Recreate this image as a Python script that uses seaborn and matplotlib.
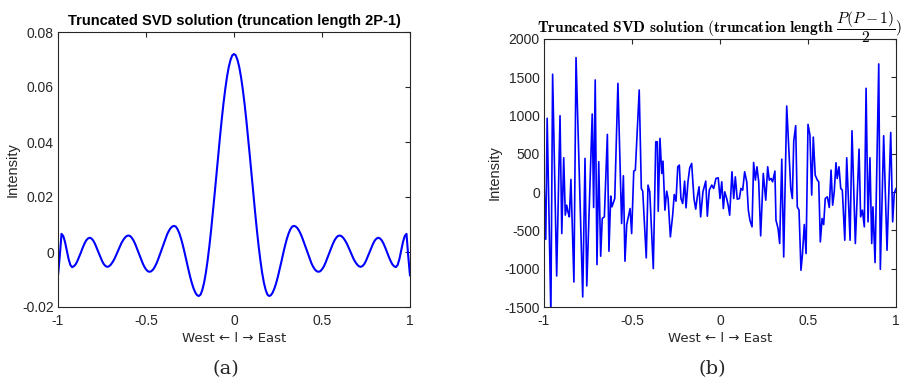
import numpy as np
import seaborn as sns
import matplotlib.pyplot as plt

# ---- data ----
# (a) profile on 0..1 in steps of 0.01 (the curve is symmetric about l = 0)
tsvd_half = [0.0720, 0.0715, 0.0698, 0.0672, 0.0636, 0.0591, 0.0539, 0.0480, 0.0416, 0.0349,
             0.0280, 0.0211, 0.0144, 0.0080, 0.0021, -0.0031, -0.0076, -0.0112, -0.0138, -0.0155,
             -0.0160, -0.0157, -0.0147, -0.0132, -0.0112, -0.0088, -0.0061, -0.0033, -0.0004, 0.0023,
             0.0047, 0.0067, 0.0082, 0.0092, 0.0095, 0.0093, 0.0087, 0.0077, 0.0064, 0.0048,
             0.0030, 0.0012, -0.0007, -0.0025, -0.0041, -0.0054, -0.0064, -0.0070, -0.0072, -0.0070,
             -0.0063, -0.0053, -0.0039, -0.0023, -0.0006, 0.0011, 0.0027, 0.0041, 0.0051, 0.0058,
             0.0060, 0.0058, 0.0052, 0.0043, 0.0032, 0.0018, 0.0003, -0.0012, -0.0026, -0.0037,
             -0.0046, -0.0052, -0.0054, -0.0051, -0.0044, -0.0032, -0.0017, -0.0001, 0.0015, 0.0030,
             0.0042, 0.0049, 0.0052, 0.0049, 0.0042, 0.0030, 0.0015, -0.0002, -0.0018, -0.0033,
             -0.0045, -0.0052, -0.0055, -0.0047, -0.0025, 0.0006, 0.0036, 0.0058, 0.0066, -0.0015,
             -0.0086]

# (b) noisy solution, vertices of the polyline
noisy_l = [-1.000, -0.990, -0.982, -0.961, -0.951, -0.928, -0.909, -0.899, -0.888, -0.879,
           -0.871, -0.864, -0.856, -0.847, -0.830, -0.818, -0.780, -0.767, -0.757, -0.726,
           -0.718, -0.709, -0.699, -0.689, -0.678, -0.669, -0.657, -0.640, -0.631, -0.621,
           -0.614, -0.598, -0.580, -0.559, -0.549, -0.540, -0.530, -0.511, -0.502, -0.490,
           -0.481, -0.459, -0.447, -0.439, -0.419, -0.409, -0.399, -0.379, -0.365, -0.356,
           -0.351, -0.341, -0.331, -0.324, -0.313, -0.303, -0.295, -0.282, -0.269, -0.260,
           -0.250, -0.240, -0.231, -0.222, -0.212, -0.201, -0.193, -0.182, -0.172, -0.161,
           -0.148, -0.138, -0.129, -0.119, -0.110, -0.097, -0.081, -0.072, -0.061, -0.047,
           -0.036, -0.023, -0.010, 0.000, 0.010, 0.019, 0.027, 0.038, 0.047, 0.055,
           0.068, 0.078, 0.087, 0.098, 0.110, 0.119, 0.129, 0.140, 0.152, 0.161,
           0.170, 0.182, 0.191, 0.201, 0.210, 0.220, 0.231, 0.246, 0.260, 0.271,
           0.280, 0.290, 0.299, 0.312, 0.318, 0.330, 0.339, 0.351, 0.362, 0.379,
           0.402, 0.411, 0.419, 0.430, 0.439, 0.449, 0.460, 0.468, 0.479, 0.489,
           0.500, 0.511, 0.521, 0.530, 0.541, 0.553, 0.561, 0.570, 0.580, 0.589,
           0.598, 0.610, 0.621, 0.631, 0.640, 0.649, 0.659, 0.666, 0.676, 0.686,
           0.695, 0.709, 0.720, 0.739, 0.750, 0.769, 0.790, 0.799, 0.809, 0.820,
           0.830, 0.841, 0.852, 0.862, 0.869, 0.881, 0.902, 0.911, 0.930, 0.949,
           0.970, 0.981, 0.990, 1.000]
noisy_intensity = [135, -615, 964, -1600, 1539, -1094, 998, -540, 449, -300,
                   -170, -257, -323, 166, -1173, 1757, -1369, 440, -1225, 1020,
                   -200, 1465, -946, 397, -837, -344, -323, 754, -772, -52,
                   -192, -83, 1421, -410, 214, -902, -423, -214, -541, 275,
                   288, 1334, 48, 13, -859, 92, 4, -998, 658, 658,
                   -249, 702, 244, 405, -235, 13, -83, -584, -301, -31,
                   -118, 331, 353, -83, -148, 144, -205, 135, 318, 375,
                   -83, -222, -61, 70, -323, 4, 144, -314, 26, 92,
                   48, 179, 187, -83, 135, -214, 4, -83, -179, -301,
                   266, -83, 200, -92, -83, 48, 26, 266, 135, -235,
                   -366, -453, 388, 157, 331, 135, -571, 244, -105, 331,
                   157, 179, 135, 275, -366, -475, -671, 431, -846, 1125,
                   48, -83, 667, 868, -192, -235, -1020, -824, -423, -802,
                   885, 746, -39, 719, 222, 157, 135, -650, -344, -423,
                   -83, -61, -200, 288, -170, 4, 384, 179, 331, 48,
                   26, -628, 449, -628, 802, -671, 562, -323, -235, -453,
                   1356, -388, 449, -671, -192, -920, 1674, -1007, 737, -759,
                   780, -388, -17, 48]

left_yticks = [-0.02, 0, 0.02, 0.04, 0.06, 0.08]
left_yticklabels = ["-0.02", "0", "0.02", "0.04", "0.06", "0.08"]
right_yticks = [-1500, -1000, -500, 0, 500, 1000, 1500, 2000]
xticks = [-1, -0.5, 0, 0.5, 1]
xticklabels = ["-1", "-0.5", "0", "0.5", "1"]

# ---- style ----
sns.set_style("white")
plt.rcParams['font.family'] = ['Liberation Sans', 'DejaVu Sans']
plt.rcParams['axes.unicode_minus'] = False
plt.rcParams['mathtext.fontset'] = 'cm'
AX_COLOR = '#262626'

tsvd_half = np.array(tsvd_half)
tsvd = np.concatenate([tsvd_half[:0:-1], tsvd_half])
tsvd_l = np.linspace(-1, 1, len(tsvd))

fig = plt.figure(figsize=(9.13, 3.86), dpi=100)
ax1 = fig.add_axes([58 / 913, 1 - 307 / 386, 352 / 913, 275 / 386])
ax2 = fig.add_axes([544 / 913, 1 - 307 / 386, 352 / 913, 268 / 386])

sns.lineplot(x=tsvd_l, y=tsvd, ax=ax1, color='#0000ff', linewidth=1.5, estimator=None)
sns.lineplot(x=noisy_l, y=noisy_intensity, ax=ax2, color='#0000ff', linewidth=1.2,
             estimator=None, sort=False)

ax1.set_ylim(-0.02, 0.08)
ax1.set_yticks(left_yticks)
ax1.set_yticklabels(left_yticklabels)
ax2.set_ylim(-1500, 2000)
ax2.set_yticks(right_yticks)
ax2.set_yticklabels([str(v) for v in right_yticks])

for ax in (ax1, ax2):
    ax.set_xlim(-1, 1)
    ax.set_xticks(xticks)
    ax.set_xticklabels(xticklabels)
    ax.tick_params(direction='in', top=True, right=True, length=3.5, width=0.8,
                   color=AX_COLOR, labelcolor=AX_COLOR, labelsize=10, pad=3)
    ax.tick_params(axis='x', pad=5)
    for s in ax.spines.values():
        s.set_color(AX_COLOR)
        s.set_linewidth(0.8)
    ax.set_xlabel("West \u2190 l \u2192 East", fontsize=9.5, color=AX_COLOR, labelpad=3,
                  family=['DejaVu Sans'])
    ax.set_ylabel("Intensity", fontsize=10.5, color=AX_COLOR, labelpad=2)

ax1.set_title("Truncated SVD solution (truncation length 2P-1)", fontsize=10.5,
              fontweight='bold', color='black', pad=5)
ax2.set_title(r"$\mathbf{Truncated\ SVD\ solution\ (truncation\ length\ }\dfrac{P(P-1)}{2}\mathbf{)}$",
              fontsize=11.2, color='black', pad=4)

fig.text(226 / 913, 1 - 369 / 386, "(a)", ha='center', va='center',
         fontsize=14, family='DejaVu Serif')
fig.text(712 / 913, 1 - 369 / 386, "(b)", ha='center', va='center',
         fontsize=14, family='DejaVu Serif')

fig.savefig("out.png", dpi=100)
